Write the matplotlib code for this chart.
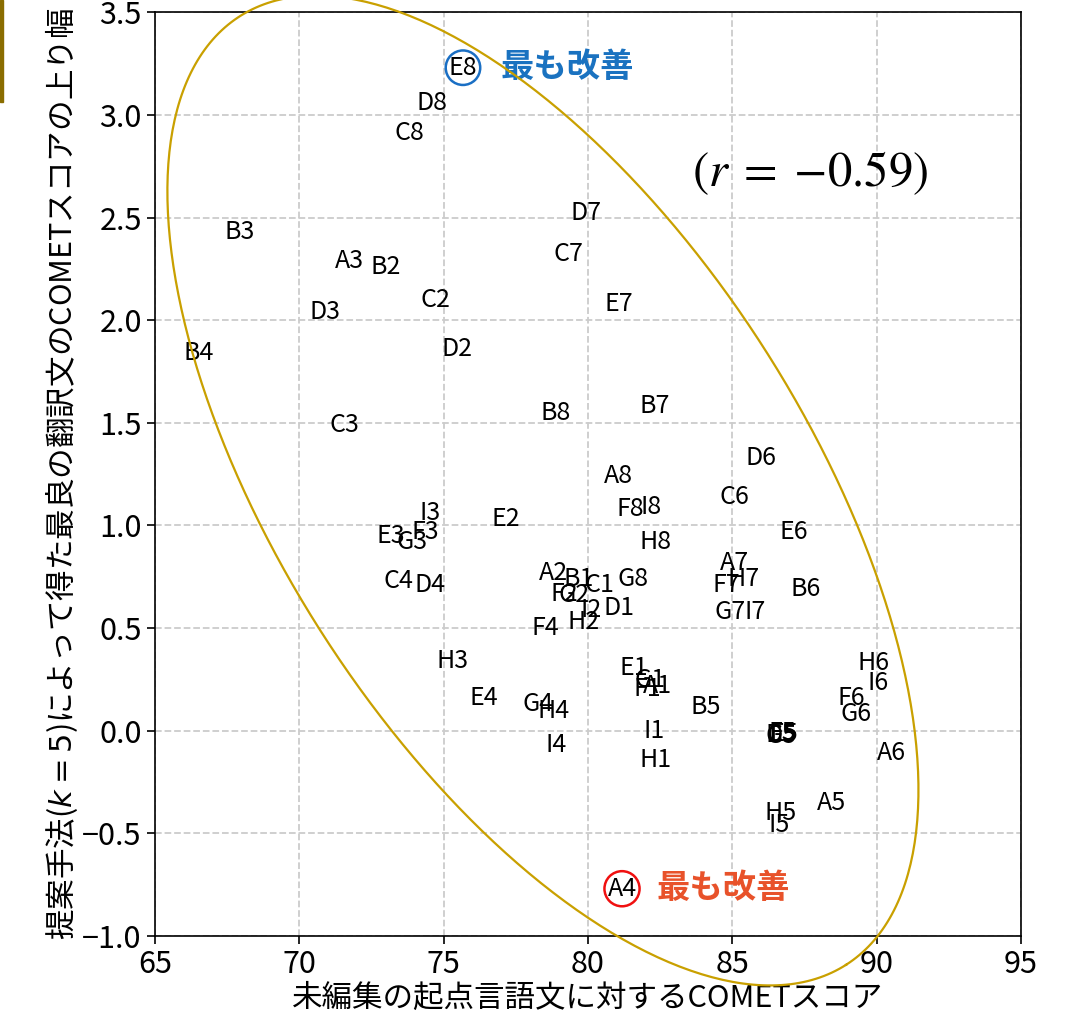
import numpy as np
import matplotlib
matplotlib.use("Agg")
import matplotlib.pyplot as plt
from matplotlib.patches import Rectangle

plt.rcParams['font.family'] = ['Noto Sans CJK JP', 'DejaVu Sans']

# system labels and their (source COMET, improvement) values
labels = ["E8", "D8", "C8", "B3", "A3", "B2", "D7", "C7", "C2", "D3", "E7", "B4", "D2", "C3",
          "B8", "B7", "D6", "A8", "C6", "F8", "I8", "I3", "E2", "E6", "E3", "F3", "G3", "H8",
          "A7", "H7", "F7", "G7", "I7", "B6", "C4", "D4", "A2", "B1", "C1", "G8", "F2", "G2",
          "I2", "D1", "H2", "F4", "H3", "E1", "G1", "A1", "F1", "I1", "H1", "E4", "G4", "H4",
          "I4", "B5", "C5", "D5", "E5", "F5", "G5", "H5", "I5", "A5", "A6", "F6", "G6", "H6",
          "I6", "A4"]
src_comet = [75.67, 74.59, 73.83, 67.94, 71.75, 73.00, 79.93, 79.31, 74.73, 70.89, 81.07, 66.52, 75.46, 71.58,
             78.89, 82.32, 85.99, 81.07, 85.06, 81.45, 82.18, 74.53, 77.16, 87.13, 73.17, 74.35, 73.90, 82.35,
             85.06, 85.40, 84.78, 84.92, 85.78, 87.55, 73.45, 74.53, 78.79, 79.69, 80.41, 81.56, 79.17, 79.51,
             80.10, 81.07, 79.86, 78.54, 75.32, 81.59, 82.15, 82.42, 82.04, 82.28, 82.35, 76.40, 78.27, 78.82,
             78.89, 84.09, 86.70, 86.68, 86.78, 86.74, 86.68, 86.68, 86.61, 88.45, 90.53, 89.11, 89.28, 89.90,
             90.04, 81.18]
gain = [3.23, 3.06, 2.91, 2.43, 2.29, 2.26, 2.52, 2.32, 2.10, 2.04, 2.08, 1.84, 1.86, 1.49,
        1.55, 1.58, 1.33, 1.24, 1.14, 1.08, 1.09, 1.06, 1.03, 0.97, 0.95, 0.97, 0.92, 0.92,
        0.816, 0.74, 0.71, 0.58, 0.58, 0.69, 0.73, 0.71, 0.77, 0.74, 0.71, 0.74, 0.665, 0.66,
        0.59, 0.60, 0.53, 0.50, 0.34, 0.305, 0.246, 0.217, 0.203, -0.002, -0.143, 0.16, 0.13, 0.095,
        -0.07, 0.115, -0.02, -0.02, -0.015, -0.01, -0.025, -0.40, -0.46, -0.35, -0.11, 0.16, 0.08, 0.33,
        0.23, -0.77]
r_value = -0.59
best_label = "E8"
worst_label = "A4"

fig = plt.figure(figsize=(10.69, 10.24), dpi=100)
ax = fig.add_axes([0.145, 0.086, 0.81, 0.902])

for name, xv, yv in zip(labels, src_comet, gain):
    if name == best_label:
        ax.text(xv, yv, name, ha='center', va='center', fontsize=18,
                bbox=dict(boxstyle='circle,pad=0.12', fc='white', ec='#1a6fc4', lw=1.8))
        ax.text(xv + 1.3, yv, "最も改善", ha='left', va='center', fontsize=24,
                fontweight='bold', color='#1a72c0')
    elif name == worst_label:
        ax.text(xv, yv, name, ha='center', va='center', fontsize=18,
                bbox=dict(boxstyle='circle,pad=0.12', fc='white', ec='#f01010', lw=1.8))
        ax.text(xv + 1.2, yv, "最も改善", ha='left', va='center', fontsize=24,
                fontweight='bold', color='#e8522a')
    else:
        ax.text(xv, yv, name, ha='center', va='center', fontsize=18)

r_txt = r"$(r\;=\;{-}%.2f)$" % abs(r_value)
ax.text(87.7, 2.72, r_txt, ha='center', va='center', fontsize=35, math_fontfamily='stix')

# ellipse around the points, drawn in pixel-like units then mapped to data
cx, cy = 78.44, 1.17
sx, sy = 28.87, 205.3
a_px, b_px, th = 563, 263, np.deg2rad(57.4)
t = np.linspace(0, 2 * np.pi, 400)
ex = cx + (a_px * np.cos(t) * np.cos(th) - b_px * np.sin(t) * np.sin(th)) / sx
ey = cy - (a_px * np.cos(t) * np.sin(th) + b_px * np.sin(t) * np.cos(th)) / sy
ax.plot(ex, ey, color='#c9a000', lw=1.6, clip_on=False, zorder=5)

ax.set_xlim(65, 95)
ax.set_ylim(-1.0, 3.5)
ax.set_xticks(np.arange(65, 96, 5))
ax.set_yticks(np.arange(-1.0, 3.51, 0.5))
ax.tick_params(labelsize=22, length=6, width=1.2)
ax.grid(True, linestyle='--', color='#cccccc', lw=1.3)
ax.set_axisbelow(True)
for s in ax.spines.values():
    s.set_linewidth(1.2)

ax.set_xlabel("未編集の起点言語文に対するCOMETスコア", fontsize=22, labelpad=2)
ax.set_ylabel("提案手法($k=5$)によって得た最良の翻訳文のCOMETスコアの上り幅", fontsize=22, labelpad=2)

fig.patches.append(Rectangle((0, 0.9), 0.003, 0.1, transform=fig.transFigure,
                             color='#8a6d00', zorder=0))

fig.savefig("out.png", dpi=100)
